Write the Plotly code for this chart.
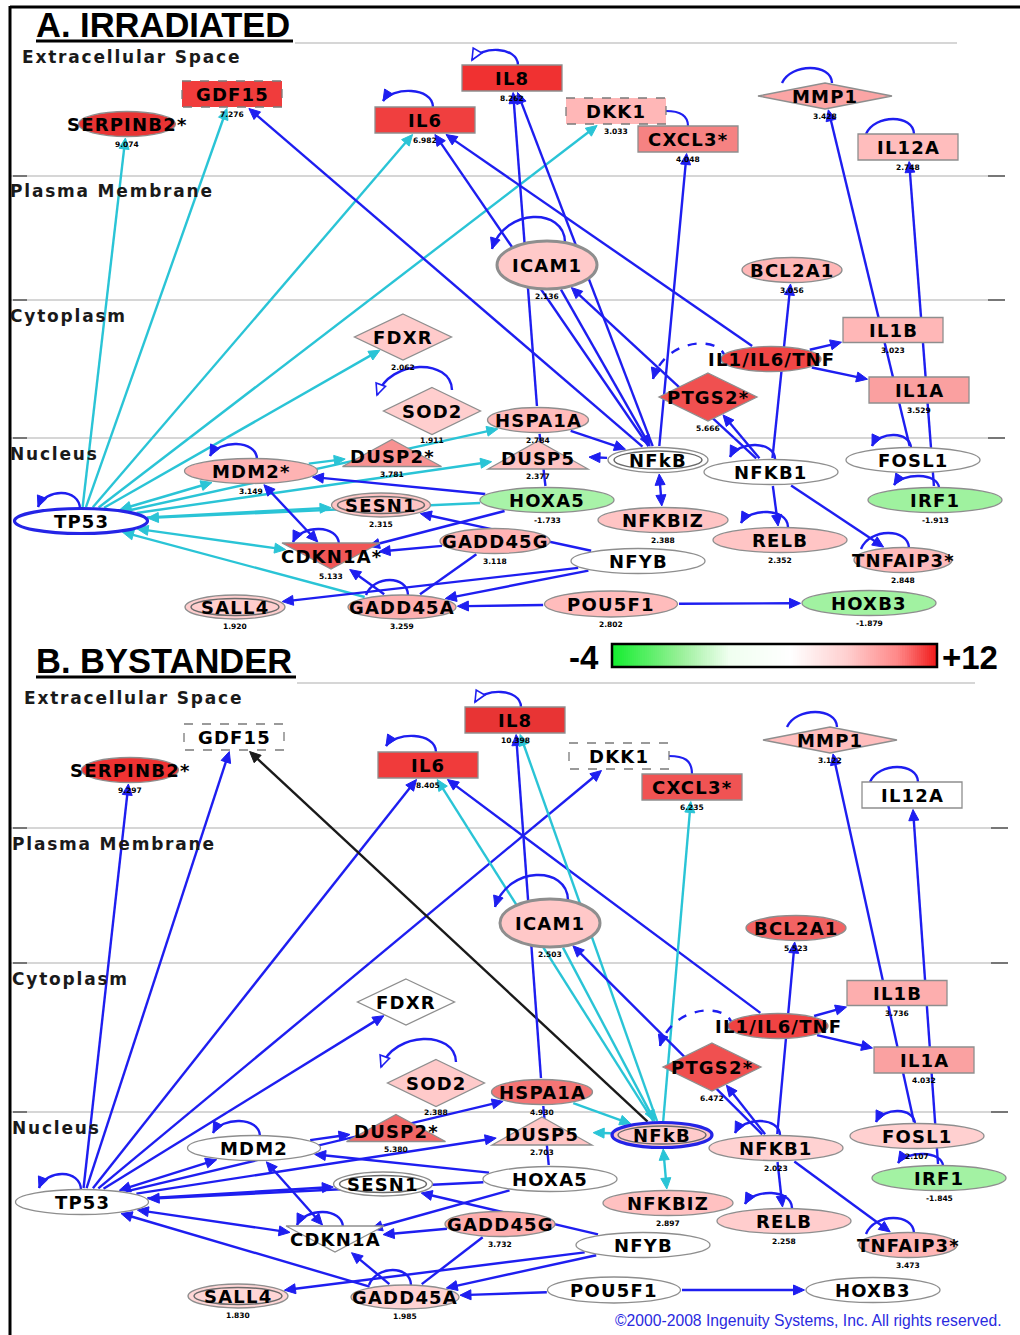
import math
import plotly.graph_objects as go

# ---------------------------------------------------------------- data
NODES = ["SERPINB2", "GDF15", "IL6", "IL8", "DKK1", "CXCL3", "MMP1", "IL12A", "ICAM1", "BCL2A1",
         "FDXR", "SOD2", "HSPA1A", "IL1/IL6/TNF", "PTGS2", "IL1B", "IL1A", "DUSP2", "DUSP5", "NFkB",
         "NFKB1", "FOSL1", "IRF1", "MDM2", "TP53", "SESN1", "HOXA5", "NFKBIZ", "RELB", "TNFAIP3",
         "CDKN1A", "GADD45G", "NFYB", "SALL4", "GADD45A", "POU5F1", "HOXB3"]
STARRED_A = ["SERPINB2", "CXCL3", "PTGS2", "DUSP2", "MDM2", "CDKN1A", "TNFAIP3"]
STARRED_B = ["SERPINB2", "CXCL3", "PTGS2", "DUSP2", "TNFAIP3"]

VALUES_A = [9.074, 7.276, 6.982, 8.262, 3.033, 4.048, 3.428, 2.748, 2.136, 3.056,
            2.062, 1.911, 2.784, None, 5.666, 3.023, 3.529, 3.781, 2.377, None,
            None, None, -1.913, 3.149, None, 2.315, -1.733, 2.388, 2.352, 2.848,
            5.133, 3.118, None, 1.920, 3.259, 2.802, -1.879]
VALUES_B = [9.297, None, 8.405, 10.398, None, 6.235, 3.122, None, 2.503, 5.523,
            None, 2.388, 4.930, None, 6.472, 3.736, 4.032, 5.380, 2.703, None,
            2.023, 2.107, -1.845, None, None, None, None, 2.897, 2.258, 3.473,
            None, 3.732, None, 1.830, 1.985, None, None]
# complexes coloured without a printed value
COMPLEX_TINT_A = {"IL1/IL6/TNF": 6.4}
COMPLEX_TINT_B = {"IL1/IL6/TNF": 7.6, "NFkB": 2.4}

# edges: (source, target, colour code, kind)  kind: ">" arrow at target, "<>" both ends, "-" plain
EDGES_A = [
    ("TP53", "SERPINB2", "c", ">"), ("TP53", "GDF15", "c", ">"), ("TP53", "IL6", "c", ">"),
    ("TP53", "DKK1", "c", ">"), ("TP53", "FDXR", "c", ">"), ("TP53", "HSPA1A", "c", ">"),
    ("TP53", "DUSP5", "c", ">"), ("TP53", "MDM2", "c", "<>"), ("MDM2", "DUSP2", "c", ">"),
    ("TP53", "SESN1", "c", ">"), ("HOXA5", "TP53", "c", ">"), ("TP53", "CDKN1A", "c", "<>"),
    ("GADD45A", "TP53", "c", ">"),
    ("NFkB", "GDF15", "b", ">"), ("NFkB", "IL6", "b", ">"), ("IL1/IL6/TNF", "IL6", "b", ">"),
    ("HSPA1A", "IL8", "b", ">"), ("NFkB", "IL8", "b", ">"), ("NFkB", "CXCL3", "b", ">"),
    ("ICAM1", "NFkB", "b", ">"), ("NFKB1", "ICAM1", "b", ">"), ("NFKB1", "PTGS2", "b", ">"),
    ("HSPA1A", "NFkB", "b", ">"), ("NFkB", "DUSP5", "b", ">"), ("NFkB", "NFKBIZ", "b", "<>"),
    ("IL1/IL6/TNF", "IL1B", "b", ">"), ("IL1/IL6/TNF", "IL1A", "b", ">"),
    ("FOSL1", "MMP1", "b", ">"), ("IRF1", "IL12A", "b", ">"), ("NFKB1", "BCL2A1", "b", ">"),
    ("NFKB1", "RELB", "b", ">"), ("NFKB1", "TNFAIP3", "b", ">"), ("HOXA5", "HSPA1A", "b", "-"),
    ("HOXA5", "MDM2", "b", ">"), ("HOXA5", "CDKN1A", "b", ">"), ("GADD45G", "CDKN1A", "b", ">"),
    ("NFYB", "SESN1", "b", ">"), ("NFYB", "GADD45A", "b", ">"), ("NFYB", "SALL4", "b", ">"),
    ("POU5F1", "GADD45A", "b", ">"), ("POU5F1", "HOXB3", "b", ">"), ("GADD45A", "CDKN1A", "b", ">"),
    ("GADD45G", "GADD45A", "b", "-"), ("MDM2", "CDKN1A", "b", "<>"),
]
EDGES_B = [
    ("TP53", "SERPINB2", "b", ">"), ("TP53", "GDF15", "b", ">"), ("TP53", "IL6", "b", ">"),
    ("TP53", "DKK1", "b", ">"), ("TP53", "FDXR", "b", ">"), ("TP53", "HSPA1A", "b", ">"),
    ("TP53", "DUSP5", "b", ">"), ("TP53", "MDM2", "b", "<>"), ("MDM2", "DUSP2", "b", ">"),
    ("TP53", "SESN1", "b", ">"), ("HOXA5", "TP53", "b", ">"), ("TP53", "CDKN1A", "b", "<>"),
    ("GADD45A", "TP53", "b", ">"),
    ("NFkB", "GDF15", "k", ">"), ("NFkB", "IL6", "c", ">"), ("IL1/IL6/TNF", "IL6", "b", ">"),
    ("HSPA1A", "IL8", "b", ">"), ("NFkB", "IL8", "c", ">"), ("NFkB", "CXCL3", "c", ">"),
    ("ICAM1", "NFkB", "c", ">"), ("NFKB1", "ICAM1", "b", ">"), ("NFKB1", "PTGS2", "b", ">"),
    ("HSPA1A", "NFkB", "c", ">"), ("NFkB", "DUSP5", "c", ">"), ("NFkB", "NFKBIZ", "c", "<>"),
    ("IL1/IL6/TNF", "IL1B", "b", ">"), ("IL1/IL6/TNF", "IL1A", "b", ">"),
    ("FOSL1", "MMP1", "b", ">"), ("IRF1", "IL12A", "b", ">"), ("NFKB1", "BCL2A1", "b", ">"),
    ("NFKB1", "RELB", "b", ">"), ("NFKB1", "TNFAIP3", "b", ">"), ("HOXA5", "HSPA1A", "b", "-"),
    ("HOXA5", "MDM2", "b", ">"), ("HOXA5", "CDKN1A", "b", ">"), ("GADD45G", "CDKN1A", "b", ">"),
    ("NFYB", "SESN1", "b", ">"), ("NFYB", "GADD45A", "b", ">"), ("NFYB", "SALL4", "b", ">"),
    ("POU5F1", "GADD45A", "b", ">"), ("POU5F1", "HOXB3", "b", ">"), ("GADD45A", "CDKN1A", "b", ">"),
    ("GADD45G", "GADD45A", "b", "-"), ("MDM2", "CDKN1A", "b", "<>"),
]
CONNECTORS = [("DKK1", "CXCL3")]

PANEL_TITLES = ["A. IRRADIATED", "B. BYSTANDER"]
COMPARTMENTS = ["Extracellular Space", "Plasma Membrane", "Cytoplasm", "Nucleus"]
COLOR_MIN, COLOR_MAX = -4, 12
COLORBAR_LABELS = ["-4", "+12"]
COPYRIGHT = "©2000-2008 Ingenuity Systems, Inc. All rights reserved."

# ---------------------------------------------------------------- layout tables
SHAPE = {"SERPINB2": "ellipse", "GDF15": "rect_dash", "IL6": "rect", "IL8": "rect", "DKK1": "rect_dash",
         "CXCL3": "rect", "MMP1": "diamond", "IL12A": "rect", "ICAM1": "ellipse_thick", "BCL2A1": "ellipse",
         "FDXR": "diamond", "SOD2": "diamond", "HSPA1A": "ellipse", "IL1/IL6/TNF": "ellipse", "PTGS2": "diamond",
         "IL1B": "rect", "IL1A": "rect", "DUSP2": "triangle", "DUSP5": "triangle", "NFkB": "ellipse_double",
         "NFKB1": "ellipse", "FOSL1": "ellipse", "IRF1": "ellipse", "MDM2": "ellipse", "TP53": "ellipse",
         "SESN1": "ellipse_double", "HOXA5": "ellipse", "NFKBIZ": "ellipse", "RELB": "ellipse",
         "TNFAIP3": "ellipse", "CDKN1A": "invtriangle", "GADD45G": "ellipse", "NFYB": "ellipse",
         "SALL4": "ellipse_double", "GADD45A": "ellipse", "POU5F1": "ellipse", "HOXB3": "ellipse"}
SIZE = {"SERPINB2": (97, 25), "GDF15": (100, 26), "IL6": (100, 26), "IL8": (100, 26), "DKK1": (100, 26),
        "CXCL3": (100, 26), "MMP1": (134, 26), "IL12A": (100, 26), "ICAM1": (100, 48), "BCL2A1": (100, 25),
        "FDXR": (97, 46), "SOD2": (97, 47), "HSPA1A": (101, 25), "IL1/IL6/TNF": (100, 25), "PTGS2": (98, 48),
        "IL1B": (100, 25), "IL1A": (100, 26), "DUSP2": (99, 27), "DUSP5": (100, 28), "NFkB": (100, 25),
        "NFKB1": (134, 25), "FOSL1": (134, 25), "IRF1": (134, 25), "MDM2": (133, 25), "TP53": (133, 25),
        "SESN1": (99, 24), "HOXA5": (134, 25), "NFKBIZ": (130, 25), "RELB": (134, 25), "TNFAIP3": (98, 25),
        "CDKN1A": (98, 26), "GADD45G": (110, 25), "NFYB": (134, 25), "SALL4": (100, 24), "GADD45A": (108, 24),
        "POU5F1": (133, 26), "HOXB3": (134, 25)}
POS_A = {"SERPINB2": (127, 124), "GDF15": (232, 94), "IL6": (425, 120), "IL8": (512, 78), "DKK1": (616, 111),
         "CXCL3": (688, 139), "MMP1": (825, 96), "IL12A": (908, 147), "ICAM1": (547, 265), "BCL2A1": (792, 270),
         "FDXR": (403, 337), "SOD2": (432, 411), "HSPA1A": (538, 420), "IL1/IL6/TNF": (771, 359),
         "PTGS2": (708, 397), "IL1B": (893, 330), "IL1A": (919, 390), "DUSP2": (392, 453), "DUSP5": (538, 455),
         "NFkB": (658, 460), "NFKB1": (771, 472), "FOSL1": (913, 460), "IRF1": (935, 500), "MDM2": (251, 471),
         "TP53": (81, 521), "SESN1": (381, 505), "HOXA5": (547, 500), "NFKBIZ": (663, 520), "RELB": (780, 540),
         "TNFAIP3": (903, 560), "CDKN1A": (331, 556), "GADD45G": (495, 541), "NFYB": (638, 561),
         "SALL4": (235, 607), "GADD45A": (402, 607), "POU5F1": (611, 604), "HOXB3": (869, 603)}
POS_B = {"SERPINB2": (130, 770), "GDF15": (234, 737), "IL6": (428, 765), "IL8": (515, 720), "DKK1": (619, 756),
         "CXCL3": (692, 787), "MMP1": (830, 740), "IL12A": (912, 795), "ICAM1": (550, 923), "BCL2A1": (796, 928),
         "FDXR": (406, 1002), "SOD2": (436, 1083), "HSPA1A": (542, 1092), "IL1/IL6/TNF": (778, 1026),
         "PTGS2": (712, 1067), "IL1B": (897, 993), "IL1A": (924, 1060), "DUSP2": (396, 1128),
         "DUSP5": (542, 1131), "NFkB": (662, 1135), "NFKB1": (776, 1148), "FOSL1": (917, 1136),
         "IRF1": (939, 1178), "MDM2": (254, 1148), "TP53": (82, 1202), "SESN1": (383, 1184),
         "HOXA5": (550, 1179), "NFKBIZ": (668, 1203), "RELB": (784, 1221), "TNFAIP3": (908, 1245),
         "CDKN1A": (335, 1239), "GADD45G": (500, 1224), "NFYB": (643, 1245), "SALL4": (238, 1296),
         "GADD45A": (405, 1297), "POU5F1": (614, 1290), "HOXB3": (873, 1290)}
HIGHLIGHT = ["TP53", "NFkB"]
LABEL_DY = {"triangle": 3}
VALUE_DY = {"SOD2": 5.5}
# self loops: node, start dx, dy, end dx, dy, peak dy, head, dashed
LOOPS = [("IL8", 6, -13, -40, -18, -28, "open", False), ("IL6", 8, -13, -42, -19, -29, "fill", False),
         ("ICAM1", 18, -23, -55, -16, -48, "fill", False), ("MMP1", 7, -13, -43, -13, -28, None, False),
         ("IL12A", 6, -13, -42, -13, -28, None, False), ("SOD2", 20, -21, -55, -16, -44, "open", False),
         ("MDM2", 6, -12, -41, -15, -27, "fill", False), ("TP53", -1, -12, -43, -14, -28, "fill", False),
         ("CDKN1A", 8, -12, -38, -14, -27, "fill", False), ("GADD45A", 6, -12, -36, -12, -27, None, False),
         ("NFKB1", 4, -13, -41, -15, -27, "fill", False), ("RELB", 8, -13, -39, -17, -28, "fill", False),
         ("TNFAIP3", 6, -12, -42, -11, -27, None, False), ("FOSL1", -2, -12, -41, -14, -25, "fill", False),
         ("IRF1", 4, -12, -41, -15, -24, "fill", False),
         ("IL1/IL6/TNF", -46, 0, -118, 20, -15, "fill", True)]
COMP_LINES = [[(295, 957, 43), (10, 1005, 176), (10, 1005, 300), (10, 1005, 438)],
              [(297, 975, 683), (10, 1008, 828), (10, 1008, 963), (10, 1008, 1112)]]
COMP_LABELS = [[(21, 57), (9, 191), (9, 316), (9, 454)],
               [(23, 698), (11, 844), (11, 979), (11, 1128)]]
TITLE_POS = [(35, 25, 293, 41), (35, 661, 296, 677)]

EDGE_COLORS = {"b": "#1e1ef0", "c": "#2ac4d6", "k": "#1a1a1a"}
POS_STOPS = [(0, (255, 255, 255)), (2.3, (255, 202, 202)), (3.4, (255, 182, 182)), (3.9, (250, 160, 160)),
             (4.6, (245, 122, 122)), (5.7, (240, 86, 86)), (7.6, (240, 64, 64)), (9.2, (240, 48, 48)),
             (10.0, (232, 52, 52))]
NEG_STOPS = [(0, (255, 255, 255)), (1.9, (160, 242, 160)), (4.0, (40, 240, 70))]
CB_SCALE = [[0, "#12ee2e"], [0.21, "#98f098"], [0.36, "#f0fff0"], [0.55, "#ffffff"], [0.72, "#ffd0d0"],
            [0.88, "#ff8888"], [1, "#f01818"]]

shapes, annotations = [], []


def ramp(stops, u):
    u = max(stops[0][0], min(stops[-1][0], u))
    for (u0, c0), (u1, c1) in zip(stops[:-1], stops[1:]):
        if u0 <= u <= u1:
            f = (u - u0) / (u1 - u0) if u1 > u0 else 0
            return "rgb(%d,%d,%d)" % tuple(round(a + (b - a) * f) for a, b in zip(c0, c1))
    return "rgb(%d,%d,%d)" % stops[-1][1]


def fill_for(v, vmax):
    if v is None:
        return "white"
    if v >= 0:
        return ramp(POS_STOPS, v * 10.0 / vmax)
    return ramp(NEG_STOPS, -v)


def boundary(name, pos, tx, ty, pad=1.5):
    cx, cy = pos[name]
    w, h = SIZE[name]
    a, b = w / 2 + pad, h / 2 + pad
    dx, dy = tx - cx, ty - cy
    kind = SHAPE[name]
    if kind.startswith("rect"):
        s = min(a / abs(dx) if dx else 1e9, b / abs(dy) if dy else 1e9)
    elif kind == "diamond":
        s = 1 / (abs(dx) / a + abs(dy) / b)
    else:
        s = 1 / math.sqrt((dx / a) ** 2 + (dy / b) ** 2)
    return cx + dx * s, cy + dy * s


def add_head(tip, u, color, style="fill"):
    L, W = 11, 5
    bx, by = tip[0] - u[0] * L, tip[1] - u[1] * L
    nx, ny = -u[1], u[0]
    path = "M %.1f,%.1f L %.1f,%.1f L %.1f,%.1f Z" % (tip[0], tip[1], bx + nx * W, by + ny * W,
                                                       bx - nx * W, by - ny * W)
    shapes.append(dict(type="path", path=path, xref="x", yref="y", layer="above",
                       fillcolor=color if style == "fill" else "white",
                       line=dict(color=color, width=1 if style == "fill" else 1.6)))
    return bx + u[0] * 2, by + u[1] * 2


def draw_edges(edges, pos):
    lines = []
    for src, dst, col, kind in edges:
        (sx, sy), (tx, ty) = pos[src], pos[dst]
        p0 = boundary(src, pos, tx, ty)
        p1 = boundary(dst, pos, sx, sy)
        dx, dy = p1[0] - p0[0], p1[1] - p0[1]
        d = math.hypot(dx, dy)
        u = (dx / d, dy / d)
        color = EDGE_COLORS[col]
        a, b = p0, p1
        if kind in (">", "<>"):
            b = add_head(p1, u, color)
        if kind == "<>":
            a = add_head(p0, (-u[0], -u[1]), color)
        lines.append(dict(type="line", xref="x", yref="y", layer="above", x0=a[0], y0=a[1],
                          x1=b[0], y1=b[1], line=dict(color=color, width=2.4)))
    return lines


def bez(p0, p1, p2, p3):
    return "M %.1f,%.1f C %.1f,%.1f %.1f,%.1f %.1f,%.1f" % (p0 + p1 + p2 + p3)


def draw_loops(pos):
    color = EDGE_COLORS["b"]
    for name, sx, sy, ex, ey, peak, head, dashed in LOOPS:
        cx, cy = pos[name]
        p0 = (cx + sx, cy + sy)
        p3 = (cx + ex, cy + ey)
        c = (cy + peak - (p0[1] + p3[1]) / 8.0) / 0.75
        k = 0.18 * (p0[0] - p3[0])
        p1 = (p0[0] - 0.05 * k, c)
        p2 = (p3[0] + k, c)
        shapes.append(dict(type="path", path=bez(p0, p1, p2, p3), xref="x", yref="y", layer="above",
                           fillcolor="rgba(0,0,0,0)",
                           line=dict(color=color, width=2.4, dash="dash" if dashed else "solid")))
        if head:
            dx, dy = p3[0] - p2[0], p3[1] - p2[1]
            d = math.hypot(dx, dy)
            add_head(p3, (dx / d, dy / d), color, head)
    for src, dst in CONNECTORS:
        (sx, sy), (tx, ty) = pos[src], pos[dst]
        p0 = (sx + SIZE[src][0] / 2, sy)
        p3 = (tx, ty - SIZE[dst][1] / 2)
        shapes.append(dict(type="path", path=bez(p0, (p3[0] - 8, p0[1]), (p3[0], p0[1] + 4), p3),
                           xref="x", yref="y", layer="above", fillcolor="rgba(0,0,0,0)",
                           line=dict(color=color, width=2.2)))


def draw_node(name, pos, fill, highlight):
    cx, cy = pos[name]
    w, h = SIZE[name]
    x0, x1, y0, y1 = cx - w / 2, cx + w / 2, cy - h / 2, cy + h / 2
    kind = SHAPE[name]
    lc, lw, dash = "#8e8e8e", 1.3, "solid"
    if kind == "ellipse_thick":
        lw = 3
    if kind == "rect_dash":
        dash, lc = "dash", "#7a7a7a"
    if highlight:
        lc, lw = "#2424e6", 3.2
    base = dict(xref="x", yref="y", layer="above", fillcolor=fill, line=dict(color=lc, width=lw, dash=dash))
    if kind.startswith("ellipse"):
        shapes.append(dict(type="circle", x0=x0, x1=x1, y0=y0, y1=y1, **base))
        if kind == "ellipse_double":
            shapes.append(dict(type="circle", x0=x0 + 6, x1=x1 - 6, y0=y0 + 3.5, y1=y1 - 3.5, xref="x",
                               yref="y", layer="above", fillcolor="rgba(0,0,0,0)",
                               line=dict(color="#6a6a6a", width=1.5)))
    elif kind.startswith("rect"):
        shapes.append(dict(type="rect", x0=x0, x1=x1, y0=y0, y1=y1, **base))
    else:
        if kind == "diamond":
            pts = [(cx, y0), (x1, cy), (cx, y1), (x0, cy)]
        elif kind == "triangle":
            pts = [(cx, y0), (x1, y1), (x0, y1)]
        else:
            pts = [(x0, y0), (x1, y0), (cx, y1)]
        path = "M " + " L ".join("%.1f,%.1f" % p for p in pts) + " Z"
        shapes.append(dict(type="path", path=path, **base))


def text(x, y, s, size, family="DejaVu Sans", color="black", xanchor="center", spacing=None,
         weight="bold"):
    if spacing:
        s = '<span style="letter-spacing:%.1fpx">%s</span>' % (spacing, s)
    annotations.append(dict(x=x, y=y, xref="x", yref="y", text=s, showarrow=False, xanchor=xanchor,
                            yanchor="middle", borderpad=0,
                            font=dict(family=family, size=size, color=color, weight=weight)))


fig = go.Figure()

# colour legend bar
CB = (612, 937, 644, 667)
N = 160
cb_x = [CB[0] + (i + 0.5) * (CB[1] - CB[0]) / N for i in range(N)]
cb_z = [COLOR_MIN + (i + 0.5) * (COLOR_MAX - COLOR_MIN) / N for i in range(N)]
cb_y = [CB[2] + (CB[3] - CB[2]) * 0.25, CB[2] + (CB[3] - CB[2]) * 0.75]
fig.add_trace(go.Heatmap(x=cb_x, y=cb_y, z=[cb_z, cb_z], colorscale=CB_SCALE, zmin=COLOR_MIN,
                         zmax=COLOR_MAX, showscale=False, hoverinfo="skip"))

panels = [(POS_A, VALUES_A, STARRED_A, EDGES_A, COMPLEX_TINT_A),
          (POS_B, VALUES_B, STARRED_B, EDGES_B, COMPLEX_TINT_B)]

# compartments (underneath everything)
for pi in range(2):
    for (xa, xb, y) in COMP_LINES[pi]:
        shapes.append(dict(type="line", xref="x", yref="y", layer="above", x0=xa, x1=xb, y0=y, y1=y,
                           line=dict(color="#c9c9c9", width=1.6)))
        if xa < 100:
            for (ta, tb) in ((13, 27), (xb - 17, xb)):
                shapes.append(dict(type="line", xref="x", yref="y", layer="above", x0=ta, x1=tb, y0=y,
                                   y1=y, line=dict(color="#777777", width=2)))

# edges: lines first, then their arrowheads
edge_lines = []
head_start = len(shapes)
for pos, vals, starred, edges, tint in panels:
    edge_lines += draw_edges(edges, pos)
heads = shapes[head_start:]
del shapes[head_start:]
shapes += edge_lines + heads

for pos, vals, starred, edges, tint in panels:
    draw_loops(pos)

for pi, (pos, vals, starred, edges, tint) in enumerate(panels):
    vmax = max(v for v in vals if v is not None)
    for name, v in zip(NODES, vals):
        shown = v if v is not None else tint.get(name)
        draw_node(name, pos, fill_for(shown, vmax), name == HIGHLIGHT[pi])
        cx, cy = pos[name]
        label = name + ("*" if name in starred else "")
        text(cx, cy + LABEL_DY.get(SHAPE[name], 0), label, 18, spacing=1.2)
        if v is not None:
            text(cx, cy + SIZE[name][1] / 2 + VALUE_DY.get(name, 7.5), "%.3f" % v, 7.5)

# titles, compartment labels
for pi in range(2):
    tx, ty, ux, uy = TITLE_POS[pi]
    text(tx, ty, PANEL_TITLES[pi], 34.5, family="Liberation Sans", xanchor="left")
    shapes.append(dict(type="line", xref="x", yref="y", layer="above", x0=tx + 1, x1=ux, y0=uy, y1=uy,
                       line=dict(color="black", width=3)))
    for lab, (lx, ly) in zip(COMPARTMENTS, COMP_LABELS[pi]):
        text(lx, ly, lab, 17, color="#1a1a1a", xanchor="left", spacing=1.8)

# legend bar frame and labels
shapes.append(dict(type="rect", xref="x", yref="y", layer="above", x0=CB[0], x1=CB[1], y0=CB[2], y1=CB[3],
                   line=dict(color="black", width=2.5), fillcolor="rgba(0,0,0,0)"))
text(600, 657, COLORBAR_LABELS[0], 33, family="Liberation Sans", xanchor="right")
text(941, 657, COLORBAR_LABELS[1], 33, family="Liberation Sans", xanchor="left")
text(614, 1320, COPYRIGHT, 15.7, family="Liberation Sans", color="#2a2ae0", xanchor="left", weight="normal")

# outer frame
shapes.append(dict(type="line", xref="x", yref="y", layer="above", x0=10, x1=1020, y0=7, y1=7,
                   line=dict(color="black", width=3)))
shapes.append(dict(type="line", xref="x", yref="y", layer="above", x0=10, x1=10, y0=6, y1=1335,
                   line=dict(color="black", width=3)))

fig.update_layout(width=1020, height=1335, margin=dict(l=0, r=0, t=0, b=0), paper_bgcolor="white",
                  plot_bgcolor="white", showlegend=False, shapes=shapes, annotations=annotations,
                  xaxis=dict(visible=False, range=[0, 1020], fixedrange=True),
                  yaxis=dict(visible=False, range=[1335, 0], fixedrange=True))
fig.write_html("out.html", config={"displayModeBar": False},
               post_script="document.body.style.margin='0';")
